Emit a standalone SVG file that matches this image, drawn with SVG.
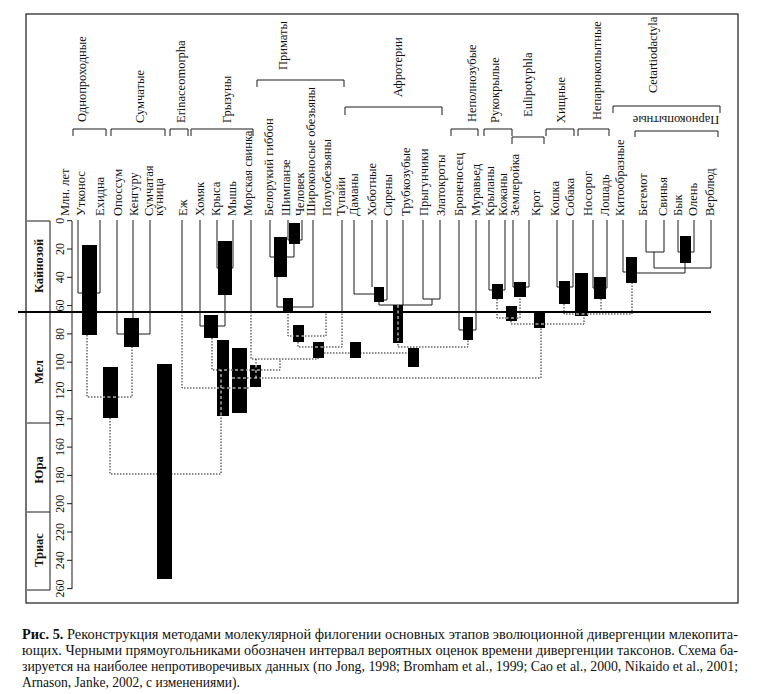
<svg xmlns="http://www.w3.org/2000/svg" xmlns:xlink="http://www.w3.org/1999/xlink" width="758" height="694" viewBox="0 0 758 694">
<style>
text{font-family:"Liberation Serif","Times New Roman",serif;fill:#111}
.sp{font-size:12.5px}
.grp{font-size:12.5px}
.num{font-size:12px}
.era{font-size:12.5px;font-weight:bold}
.cap{font-size:14px}
.ln{fill:none;stroke:#1a1a1a;stroke-width:1}
.br{fill:none;stroke:#1a1a1a;stroke-width:1}
.box{fill:#000}
</style>
<defs>
<g id="dotpaths" fill="none">
<path d="M87 335 V397 H132 V347"/>
<path d="M110 418 V474 H221 V370"/>
<path d="M212 338 V370 H280 V359"/>
<path d="M251 312 V359 H318 V358"/>
<path d="M256 359 V378"/>
<path d="M182 312 V388 H250"/>
<path d="M232 378 H541 V328"/>
<path d="M288 311 V336 H326 V312"/>
<path d="M298 342 V347 H342 V312"/>
<path d="M324 353 H408"/>
<path d="M398 305 V347 H468 V340"/>
<path d="M497 299 V318 H520 V297"/>
<path d="M511 321 V324 H584 V316"/>
<path d="M564 304 V314 H632 V283"/>
<path d="M601 299 V314"/>
</g>
<clipPath id="boxclip">
<rect x="103" y="367" width="15" height="51"/>
<rect x="217" y="340" width="12" height="76"/>
<rect x="232" y="348" width="15" height="65"/>
<rect x="250" y="365" width="11" height="22"/>
<rect x="293" y="325" width="11" height="17"/>
<rect x="313" y="342" width="11" height="16"/>
<rect x="393" y="305" width="10" height="38"/>
<rect x="506" y="306" width="11" height="15"/>
<rect x="575" y="273" width="13" height="43"/>
<rect x="534" y="311" width="11" height="17"/>
</clipPath>
</defs>
<rect width="758" height="694" fill="#fff"/>
<rect x="26" y="14" width="712" height="589" fill="none" stroke="#1a1a1a" stroke-width="1.2"/>

<g id="time-scale">
<path class="ln" d="M27 221 H50 V590 H27 M27 423 H50 M27 512 H50 M72 221 V589"/>
<path class="ln" d="M67 220.7H72M67 249H72M67 277.3H72M67 305.6H72M67 333.9H72M67 362.2H72M67 390.5H72M67 418.8H72M67 447.1H72M67 475.4H72M67 503.7H72M67 532H72M67 560.3H72M67 588.6H72"/>
<g text-anchor="middle" class="num">
<text transform="translate(64,220.7) rotate(-90)">0</text>
<text transform="translate(64,249) rotate(-90)">20</text>
<text transform="translate(64,277.3) rotate(-90)">40</text>
<text transform="translate(64,305.6) rotate(-90)">60</text>
<text transform="translate(64,333.9) rotate(-90)">80</text>
<text transform="translate(64,362.2) rotate(-90)">100</text>
<text transform="translate(64,390.5) rotate(-90)">120</text>
<text transform="translate(64,418.8) rotate(-90)">140</text>
<text transform="translate(64,447.1) rotate(-90)">160</text>
<text transform="translate(64,475.4) rotate(-90)">180</text>
<text transform="translate(64,503.7) rotate(-90)">200</text>
<text transform="translate(64,532) rotate(-90)">220</text>
<text transform="translate(64,560.3) rotate(-90)">240</text>
<text transform="translate(64,588.6) rotate(-90)">260</text>
</g>
<g text-anchor="middle" class="era">
<text transform="translate(43,266) rotate(-90)">Кайнозой</text>
<text transform="translate(43,372) rotate(-90)">Мел</text>
<text transform="translate(43,470) rotate(-90)">Юра</text>
<text transform="translate(43,550) rotate(-90)">Триас</text>
</g>
<text class="sp" transform="translate(69,216) rotate(-90)">Млн. лет</text>
</g>

<path id="kpg-boundary" d="M18 312 H711" stroke="#000" stroke-width="2"/>

<g id="connectors">
<g class="ln">
<path d="M78 220 V293 H100 V220"/>
<path d="M117 220 V334 H150 V220"/>
<path d="M133 220 V318"/>
<path d="M182 220 V312"/>
<path d="M200 220 V326 H204"/>
<path d="M217 220 V268 H233 V220"/>
<path d="M225 295 V326 H218"/>
<path d="M251 220 V312"/>
<path d="M270 220 V257 H294 V244"/>
<path d="M288 220 V240 H302 V220"/>
<path d="M277 277 V307 H313 V220"/>
<path d="M342 220 V312"/>
<path d="M354 220 V294 H374"/>
<path d="M372 220 V287"/>
<path d="M387 220 V300 H384"/>
<path d="M379 302 V305 H432 V299"/>
<path d="M423 220 V299 H440 V220"/>
<path d="M403 220 V305"/>
<path d="M459 220 V330 H476 V220"/>
<path d="M489 220 V290 H505 V220"/>
<path d="M513 220 V287 H529 V220"/>
<path d="M557 220 V287 H573 V220"/>
<path d="M593 220 V288 H607 V220"/>
<path d="M646 220 V252 H664 V220"/>
<path d="M654 252 V268 H711 V220"/>
<path d="M678 220 V252 H694 V220"/>
<path d="M685 263 V273 H637"/>
<path d="M623 220 V272 H626"/>
</g>
<use xlink:href="#dotpaths" href="#dotpaths" stroke="#1a1a1a" stroke-width="1" stroke-dasharray="1.5 1.5"/>
</g>

<g id="divergence-boxes" class="box">
<rect x="82" y="245" width="15" height="90"/>
<rect x="124" y="318" width="15" height="29"/>
<rect x="103" y="367" width="15" height="51"/>
<rect x="157" y="364" width="15" height="215"/>
<rect x="204" y="315" width="14" height="23"/>
<rect x="218" y="241" width="14" height="54"/>
<rect x="217" y="340" width="12" height="76"/>
<rect x="232" y="348" width="15" height="65"/>
<rect x="250" y="365" width="11" height="22"/>
<rect x="289" y="223" width="11" height="21"/>
<rect x="274" y="237" width="13" height="40"/>
<rect x="283" y="298" width="10" height="13"/>
<rect x="293" y="325" width="11" height="17"/>
<rect x="313" y="342" width="11" height="16"/>
<rect x="350" y="342" width="11" height="16"/>
<rect x="374" y="287" width="10" height="15"/>
<rect x="393" y="305" width="10" height="38"/>
<rect x="463" y="317" width="10" height="23"/>
<rect x="408" y="348" width="11" height="19"/>
<rect x="492" y="284" width="11" height="15"/>
<rect x="514" y="282" width="12" height="15"/>
<rect x="506" y="306" width="11" height="15"/>
<rect x="559" y="281" width="11" height="23"/>
<rect x="594" y="277" width="12" height="22"/>
<rect x="575" y="273" width="13" height="43"/>
<rect x="534" y="311" width="11" height="17"/>
<rect x="680" y="236" width="11" height="27"/>
<rect x="626" y="257" width="11" height="26"/>
</g>
<g id="connectors-through-boxes" clip-path="url(#boxclip)">
<use xlink:href="#dotpaths" href="#dotpaths" stroke="#fff" stroke-width="1" stroke-dasharray="3 2.5"/>
</g>

<g id="group-brackets" class="br">
<path d="M73 136 V129 H106 V136"/>
<path d="M111 136 V129 H165 V136"/>
<path d="M170 136 V129 H188 V136"/>
<path d="M191 136 V129 H253 V136"/>
<path d="M257 87 V80 H344 V87"/>
<path d="M345 115 V107 H442 V115"/>
<path d="M451 136 V129 H478 V136"/>
<path d="M484 136 V129 H512 V136"/>
<path d="M512 144 V137 H544 V144"/>
<path d="M546 136 V129 H574 V136"/>
<path d="M578 136 V129 H609 V136"/>
<path d="M613 113 V106 H720 V113"/>
<path d="M635 137 V131 H718 V137"/>
</g>
<g id="group-labels" class="grp">
<text id="g-monotremata" transform="translate(86,122) rotate(-90)">Однопроходные</text>
<text id="g-marsupialia" transform="translate(144,123) rotate(-90)">Сумчатые</text>
<text id="g-erinaceomorpha" transform="translate(185,123) rotate(-90)">Erinaceomorpha</text>
<text id="g-rodentia" transform="translate(231,123) rotate(-90)">Грызуны</text>
<text id="g-primates" transform="translate(287,70) rotate(-90)">Приматы</text>
<text id="g-afrotheria" transform="translate(402,97) rotate(-90)">Афротерии</text>
<text id="g-xenarthra" transform="translate(476,122) rotate(-90)">Неполнозубые</text>
<text id="g-chiroptera" transform="translate(499,123) rotate(-90)">Рукокрылые</text>
<text id="g-eulipotyphla" transform="translate(532,117) rotate(-90)">Eulipotyphla</text>
<text id="g-carnivora" transform="translate(565,123) rotate(-90)">Хищные</text>
<text id="g-perissodactyla" transform="translate(601,120) rotate(-90)">Непарнокопытные</text>
<text id="g-cetartiodactyla" transform="translate(657,93) rotate(-90)">Cetartiodactyla</text>
<text id="g-artiodactyla" x="676" y="124" text-anchor="middle" transform="rotate(180 676 120)">Парнокопытные</text>
</g>

<g id="taxa" class="sp">
<g id="t-platypus"><text transform="translate(85,216) rotate(-90)">Утконос</text></g>
<g id="t-echidna"><text transform="translate(104,216) rotate(-90)">Ехидна</text></g>
<g id="t-opossum"><text transform="translate(122,216) rotate(-90)">Опоссум</text></g>
<g id="t-kangaroo"><text transform="translate(138,216) rotate(-90)">Кенгуру</text></g>
<g id="t-quoll"><text transform="translate(153,216) rotate(-90)">Сумчатая</text><text transform="translate(163,216) rotate(-90)">куница</text></g>
<g id="t-hedgehog"><text transform="translate(187,216) rotate(-90)">Еж</text></g>
<g id="t-hamster"><text transform="translate(204,216) rotate(-90)">Хомяк</text></g>
<g id="t-rat"><text transform="translate(220,216) rotate(-90)">Крыса</text></g>
<g id="t-mouse"><text transform="translate(236,216) rotate(-90)">Мышь</text></g>
<g id="t-guineapig"><text transform="translate(252,216) rotate(-90)">Морская свинка</text></g>
<g id="t-gibbon"><text transform="translate(273,216) rotate(-90)">Белорукий гиббон</text></g>
<g id="t-chimp"><text transform="translate(290,216) rotate(-90)">Шимпанзе</text></g>
<g id="t-human"><text transform="translate(304,216) rotate(-90)">Человек</text></g>
<g id="t-platyrrhini"><text transform="translate(315,216) rotate(-90)">Широконосые обезьяны</text></g>
<g id="t-prosimians"><text transform="translate(331,216) rotate(-90)">Полуобезьяны</text></g>
<g id="t-tupaia"><text transform="translate(345,216) rotate(-90)">Тупайи</text></g>
<g id="t-hyrax"><text transform="translate(358,216) rotate(-90)">Даманы</text></g>
<g id="t-proboscidea"><text transform="translate(376,216) rotate(-90)">Хоботные</text></g>
<g id="t-sirenia"><text transform="translate(392,216) rotate(-90)">Сирены</text></g>
<g id="t-aardvark"><text transform="translate(410,216) rotate(-90)">Трубкозубые</text></g>
<g id="t-elephantshrew"><text transform="translate(428,216) rotate(-90)">Прыгунчики</text></g>
<g id="t-goldenmole"><text transform="translate(445,216) rotate(-90)">Златокроты</text></g>
<g id="t-armadillo"><text transform="translate(463,216) rotate(-90)">Броненосец</text></g>
<g id="t-anteater"><text transform="translate(480,216) rotate(-90)">Муравьед</text></g>
<g id="t-megabats"><text transform="translate(494,216) rotate(-90)">Крыланы</text></g>
<g id="t-microbats"><text transform="translate(507,216) rotate(-90)">Кожаны</text></g>
<g id="t-shrew"><text transform="translate(519,216) rotate(-90)">Землеройка</text></g>
<g id="t-mole"><text transform="translate(540,216) rotate(-90)">Крот</text></g>
<g id="t-cat"><text transform="translate(559,216) rotate(-90)">Кошка</text></g>
<g id="t-dog"><text transform="translate(574,216) rotate(-90)">Собака</text></g>
<g id="t-rhino"><text transform="translate(592,216) rotate(-90)">Носорог</text></g>
<g id="t-horse"><text transform="translate(609,216) rotate(-90)">Лошадь</text></g>
<g id="t-cetacea"><text transform="translate(624,216) rotate(-90)">Китообразные</text></g>
<g id="t-hippo"><text transform="translate(647,216) rotate(-90)">Бегемот</text></g>
<g id="t-pig"><text transform="translate(667,216) rotate(-90)">Свинья</text></g>
<g id="t-cow"><text transform="translate(682,216) rotate(-90)">Бык</text></g>
<g id="t-deer"><text transform="translate(697,216) rotate(-90)">Олень</text></g>
<g id="t-camel"><text transform="translate(714,216) rotate(-90)">Верблюд</text></g>
</g>

<g id="caption" class="cap">
<text x="22" y="639" textLength="716" lengthAdjust="spacingAndGlyphs"><tspan font-weight="bold">Рис. 5.</tspan> Реконструкция методами молекулярной филогении основных этапов эволюционной дивергенции млекопита-</text>
<text x="22" y="655" textLength="716" lengthAdjust="spacingAndGlyphs">ющих. Черными прямоугольниками обозначен интервал вероятных оценок времени дивергенции таксонов. Схема ба-</text>
<text x="22" y="671" textLength="716" lengthAdjust="spacingAndGlyphs">зируется на наиболее непротиворечивых данных (по Jong, 1998; Bromham et al., 1999; Cao et al., 2000, Nikaido et al., 2001;</text>
<text x="22" y="687" textLength="218" lengthAdjust="spacingAndGlyphs">Arnason, Janke, 2002, с изменениями).</text>
</g>
</svg>
